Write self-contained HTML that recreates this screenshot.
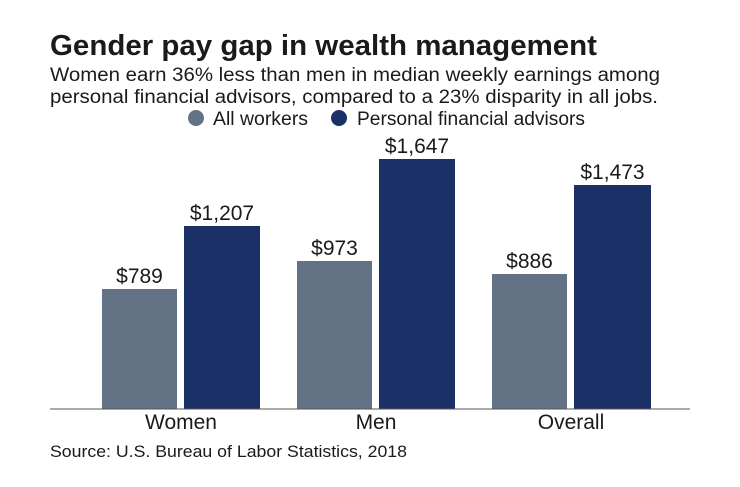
<!DOCTYPE html>
<html><head><meta charset="utf-8"><style>
body{margin:0;background:#fff;width:740px;height:482px;overflow:hidden;font-family:"Liberation Sans",sans-serif;}
</style></head><body>
<svg width="740" height="482" xmlns="http://www.w3.org/2000/svg" font-family="Liberation Sans, sans-serif">
<text x="50" y="55" font-size="29" font-weight="bold" fill="#1a1a1a" textLength="547" lengthAdjust="spacingAndGlyphs">Gender pay gap in wealth management</text>
<text x="50" y="81" font-size="19" fill="#1a1a1a" textLength="610" lengthAdjust="spacingAndGlyphs">Women earn 36% less than men in median weekly earnings among</text>
<text x="50" y="103" font-size="19" fill="#1a1a1a" textLength="608" lengthAdjust="spacingAndGlyphs">personal financial advisors, compared to a 23% disparity in all jobs.</text>
<circle cx="196" cy="118" r="8" fill="#637285"/>
<text x="213" y="125" font-size="19" fill="#1a1a1a" textLength="95" lengthAdjust="spacingAndGlyphs">All workers</text>
<circle cx="339" cy="118" r="8" fill="#1a3066"/>
<text x="357" y="125" font-size="19" fill="#1a1a1a" textLength="228" lengthAdjust="spacingAndGlyphs">Personal financial advisors</text>
<g font-size="21" fill="#1a1a1a" text-anchor="middle">
<rect x="102" y="289" width="75" height="120" fill="#637285"/>
<rect x="184" y="226" width="76" height="183" fill="#1a3066"/>
<rect x="297" y="261" width="75" height="148" fill="#637285"/>
<rect x="379" y="159" width="76" height="250" fill="#1a3066"/>
<rect x="492" y="274" width="75" height="135" fill="#637285"/>
<rect x="574" y="185" width="77" height="224" fill="#1a3066"/>
<text x="139.5" y="283">$789</text>
<text x="222" y="220">$1,207</text>
<text x="334.5" y="255">$973</text>
<text x="417" y="153">$1,647</text>
<text x="529.5" y="268">$886</text>
<text x="612.5" y="179">$1,473</text>
<text x="181" y="429">Women</text>
<text x="376" y="429">Men</text>
<text x="571" y="429">Overall</text>
</g>
<line x1="50" y1="409" x2="690" y2="409" stroke="#555" stroke-width="1"/>
<text x="50" y="457" font-size="17" fill="#1a1a1a" textLength="357" lengthAdjust="spacingAndGlyphs">Source: U.S. Bureau of Labor Statistics, 2018</text>
</svg>
</body></html>
